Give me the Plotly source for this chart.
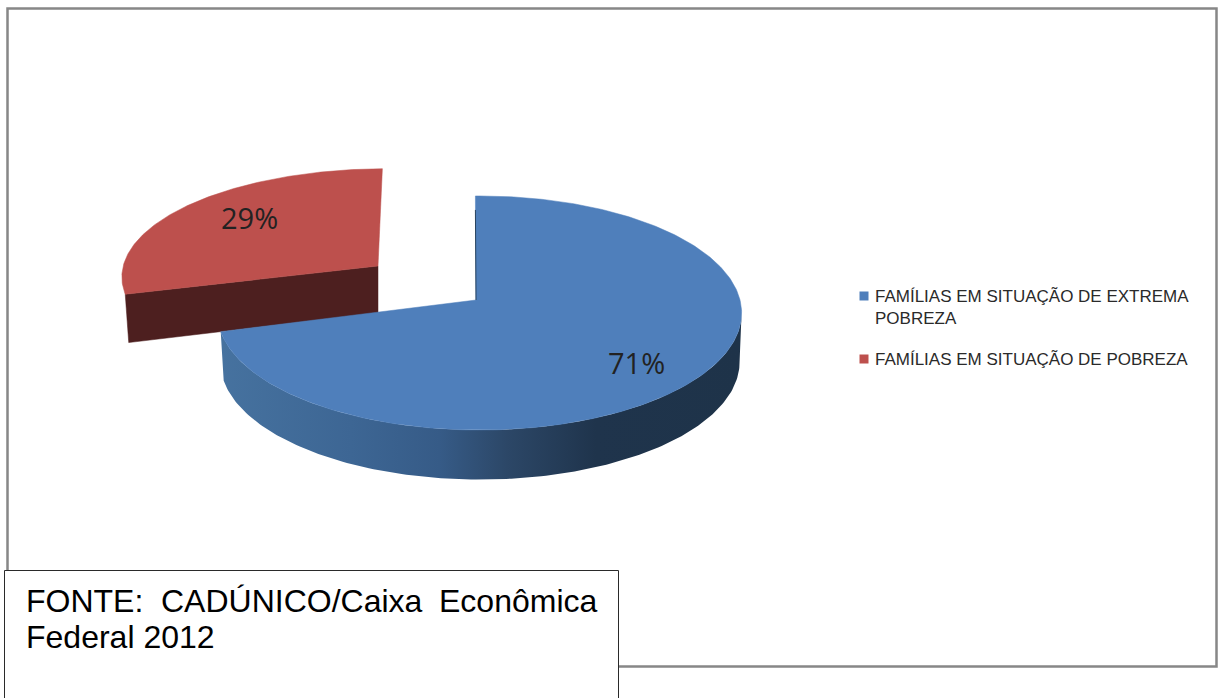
import numpy as np
import plotly.graph_objects as go

# Chart data
categories = ["FAMÍLIAS EM SITUAÇÃO DE EXTREMA POBREZA", "FAMÍLIAS EM SITUAÇÃO DE POBREZA"]
shares = [71, 29]
legend_lines = [["FAMÍLIAS EM SITUAÇÃO DE EXTREMA", "POBREZA"], ["FAMÍLIAS EM SITUAÇÃO DE POBREZA"]]
source_words = ["FONTE:", "CADÚNICO/Caixa", "Econômica"]
source_second_line = "Federal 2012"

BLUE = "#4f7fbb"
RED = "#bd504d"
RED_WALL = "#4d1f1f"
BLUE_WALL_STOPS = [
    [0.0, "#46729f"], [0.25, "#3d6694"], [0.42, "#365b87"],
    [0.55, "#2c4767"], [0.72, "#1f344c"], [1.0, "#1e3349"],
]
TILT = 0.111          # perspective foreshortening of the pie plane
FIRST_ANGLE = -1.0    # degrees, clockwise from the back of the pie


def arc(a0, a1, cx, ax_y, rx, ry, n=160):
    """Rim of the disc between two angles, projected with perspective."""
    t = np.radians(np.linspace(a0, a1, n))
    w = 1 + TILT * np.cos(t)
    return cx + rx * np.sin(t) / w, ax_y - ry * np.cos(t) / w


total = sum(shares)
blue_end = FIRST_ANGLE + 360 * shares[0] / total
red_end = blue_end + 360 * shares[1] / total

fig = go.Figure()


def polygon(x, y, **kw):
    fig.add_trace(go.Scatter(x=x, y=y, mode="lines", fill="toself", showlegend=False,
                             hoverinfo="skip", **kw))


# Exploded red slice: cut wall first, then its top face
rtx, rty = arc(blue_end, red_end, 386.5, 265, 263, 107)
rbx, rby = arc(blue_end, red_end, 387, 313, 260, 108)
polygon([378, rtx[0], rbx[0], 378, 378], [266, rty[0], rby[0], 313, 266],
        fillcolor=RED_WALL, line=dict(color=RED_WALL, width=0.5))
polygon(np.r_[378, rtx, 378], np.r_[266, rty, 266],
        fillcolor=RED, line=dict(color=RED, width=0.5))

# Blue slice: shaded outer wall, then its top face
wtx, wty = arc(96, blue_end, 479.5, 300, 260.5, 115.6)
wbx, wby = arc(96, blue_end, 480, 349, 258, 116)
polygon(np.r_[wtx, wbx[::-1], wtx[0]], np.r_[wty, wby[::-1], wty[0]],
        fillgradient=dict(type="horizontal", colorscale=BLUE_WALL_STOPS),
        line=dict(width=0))
btx, bty = arc(FIRST_ANGLE, blue_end, 479.5, 300, 260.5, 115.6, n=300)
polygon(np.r_[476, btx, 476], np.r_[300, bty, 300],
        fillcolor=BLUE, line=dict(color=BLUE, width=0.5))
# Thin sliver of the inner wall along the back cut
fig.add_trace(go.Scatter(x=[btx[0], 476], y=[bty[0] + 14, 300], mode="lines", showlegend=False,
                         hoverinfo="skip", line=dict(color="#29445f", width=1)))

# Legend swatches
for name, colour, yy in zip(categories, [BLUE, RED], [296, 359]):
    fig.add_trace(go.Scatter(x=[864], y=[yy], mode="markers", name=name, showlegend=False,
                             marker=dict(symbol="square", size=9, color=colour), hoverinfo="name"))

annotations = []


def label(text, x, y, size, family, colour="#1a1a1a", anchor="left"):
    annotations.append(dict(text=text, x=x, y=y, xref="x", yref="y", showarrow=False,
                            xanchor=anchor, yanchor="middle",
                            font=dict(size=size, family=family, color=colour)))


# Percentage labels on the slices
label(f"{shares[0]}%", 636, 362, 29, "Open Sans", colour="#222222", anchor="center")
label(f"{shares[1]}%", 249.5, 217, 29, "Open Sans", colour="#222222", anchor="center")

# Legend text
legend_y = [296, 318, 359]
for text, yy in zip(legend_lines[0] + legend_lines[1], legend_y):
    label(text, 873, yy, 17, "Liberation Sans", colour="#2a2a2a")

# Source note
SRC = "Liberation Sans"
label(source_words[0], 24, 601, 32, SRC, "#000000")
label(source_words[1], 292, 601, 32, SRC, "#000000", anchor="center")
label(source_words[2], 600, 601, 32, SRC, "#000000", anchor="right")
label(source_second_line, 24, 637, 32, SRC, "#000000")

shapes = [
    # Chart frame
    dict(type="rect", x0=7.5, y0=8.5, x1=1216.5, y1=666.5, xref="x", yref="y",
         line=dict(color="#878787", width=2.5), fillcolor="rgba(0,0,0,0)", layer="below"),
    # Box of the source note, running off the bottom of the page
    dict(type="rect", x0=4.5, y0=570.5, x1=618.5, y1=705, xref="x", yref="y",
         line=dict(color="#2a2a2a", width=1), fillcolor="white", layer="above"),
]

fig.update_layout(
    width=1218, height=698, margin=dict(l=0, r=0, t=0, b=0, pad=0), autosize=False,
    paper_bgcolor="white", plot_bgcolor="white", showlegend=False,
    xaxis=dict(range=[0, 1218], visible=False, fixedrange=True),
    yaxis=dict(range=[698, 0], visible=False, fixedrange=True),
    shapes=shapes, annotations=annotations,
)
fig.write_html("out.html", config=dict(displayModeBar=False))
